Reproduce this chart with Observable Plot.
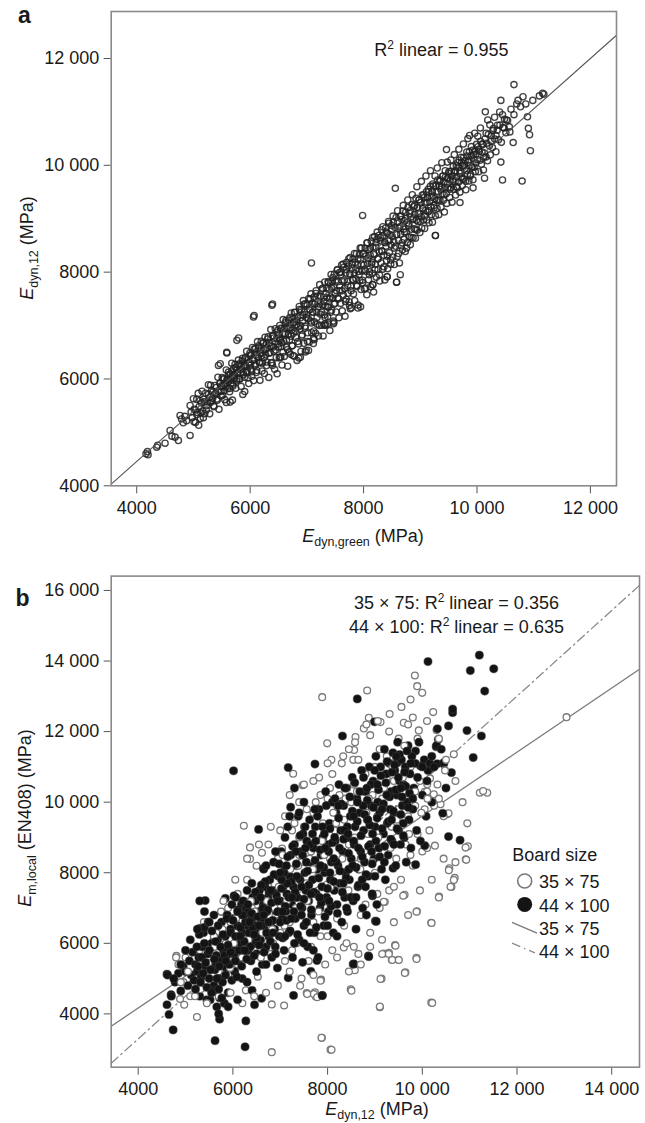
<!DOCTYPE html>
<html><head><meta charset="utf-8">
<script src="https://cdn.jsdelivr.net/npm/d3@7"></script>
<script src="https://cdn.jsdelivr.net/npm/@observablehq/plot@0.6"></script>
<style>
body{margin:0;background:#fff;}
#wrap{position:relative;width:645px;height:1123px;overflow:hidden;font-family:"Liberation Sans",Arial,Helvetica,sans-serif;}
#wrap svg{display:block;}
.panel{position:absolute;left:0;}
#overlay{position:absolute;left:0;top:0;pointer-events:none;}
</style></head><body><div id="wrap"></div>
<script>
// ---------- Panel a data: E_dyn,green (x) vs E_dyn,12 (y), MPa ----------
const aTicksX = [4000, 6000, 8000, 10000, 12000];
const aTicksY = [4000, 6000, 8000, 10000, 12000];
const aFitX = [3550, 12460];
const aFitY = [4030, 12435];
const aPoints = [
[4164,4600],[4190,4640],[4200,4580],[4353,4723],[4370,4760],[4500,4798],[4588,5036],[4620,4930],[4676,4911],[4735,4849],[4764,5317],[4790,5250],[4820,5180],[4850,5300],[4880,5220],[4941,4943],[4941,5503],[4960,5380],[4980,5280],[4999,5630],[5010,5200],[5040,5420],[5060,5330],[5084,5730],[5100,5480],[5120,5260],[5140,5550],[5160,5400],[5180,5620],[5200,5350],[5230,5500],[5264,5893],[5280,5650],[5300,5560],[5320,5780],[5340,5640],[5360,5480],[5380,5720],[5400,5840],[5420,5600],[5441,6254],[5450,5760],[5470,5920],[5490,5680],[5500,5850],[5520,6000],[5540,5780],[5560,5900],[5580,5560],[5589,6485],[5600,5980],[5620,6080],[5640,5820],[5647,5567],[5660,6000],[5680,6150],[5700,5900],[5720,6060],[5740,6220],[5766,6723],[5760,5960],[5780,6100],[5800,6280],[5820,6000],[5840,6180],[5860,6340],[5871,5711],[5880,6080],[5900,6250],[5920,6400],[5940,6120],[5960,6020],[5980,6300],[6000,6450],[6010,6180],[6030,6050],[6050,6350],[6058,7160],[6070,6560],[6090,6250],[6110,6120],[6130,6420],[6150,6620],[6170,6300],[6190,6480],[6210,6150],[6230,6680],[6250,6400],[6270,6550],[6290,6250],[6310,6750],[6330,6480],[6350,6620],[6370,6300],[6383,7379],[6393,6254],[6400,6800],[6420,6520],[6440,6700],[6460,6400],[6480,6880],[6500,6600],[6520,6760],[6529,6411],[6540,6950],[6560,6680],[6580,6500],[6600,6850],[6620,7050],[6640,6720],[6660,6550],[6680,6950],[6700,7150],[6720,6800],[6740,6620],[6760,7050],[6780,7250],[6800,6900],[6820,7100],[6840,6700],[6859,6391],[6870,7300],[6890,7000],[6910,6800],[6930,7200],[6950,7400],[6970,6950],[6990,7150],[7010,6700],[7029,6535],[7040,7300],[7060,7500],[7081,8171],[7080,7050],[7100,7250],[7120,6900],[7129,6736],[7140,7400],[7160,7600],[7180,7150],[7200,7350],[7220,7000],[7240,7550],[7260,7250],[7280,7700],[7306,7004],[7300,7450],[7320,7150],[7340,7600],[7360,7350],[7380,7800],[7400,7500],[7420,7250],[7440,7700],[7460,7900],[7470,7036],[7480,7400],[7500,7600],[7520,7850],[7540,8050],[7560,7500],[7580,7750],[7600,8000],[7620,7650],[7640,8150],[7660,7850],[7680,7450],[7700,8050],[7720,7750],[7740,8250],[7765,7317],[7760,7950],[7780,7650],[7800,8150],[7820,7850],[7840,8350],[7860,8050],[7880,7750],[7901,7328],[7900,8250],[7920,7950],[7940,8450],[7960,8150],[7983,9062],[7980,7850],[8000,8350],[8020,8050],[8040,7700],[8060,8550],[8080,8250],[8100,7950],[8120,8450],[8140,8150],[8163,7766],[8160,8650],[8180,8350],[8200,8050],[8220,8550],[8240,8750],[8260,8250],[8280,7950],[8300,8650],[8320,8400],[8340,8850],[8360,8100],[8380,8550],[8400,8750],[8416,7913],[8420,8300],[8440,8950],[8460,8600],[8480,8150],[8500,8800],[8520,9050],[8540,8450],[8560,9569],[8582,7812],[8580,8700],[8600,9150],[8620,8350],[8647,7953],[8640,8850],[8660,9050],[8680,8550],[8700,9250],[8720,8750],[8740,9000],[8760,8450],[8780,9350],[8800,8900],[8820,9150],[8840,8650],[8860,9450],[8880,9000],[8900,9250],[8920,8800],[8940,9600],[8960,9100],[8980,9350],[9000,8950],[9020,9700],[9040,9200],[9060,9450],[9080,9050],[9100,9800],[9120,9300],[9140,9550],[9160,9150],[9180,9900],[9200,9400],[9220,9650],[9240,9250],[9267,8687],[9260,9800],[9280,9500],[9300,9950],[9320,9350],[9340,9700],[9360,9550],[9380,10050],[9400,9800],[9420,9450],[9440,9900],[9462,10295],[9476,10060],[9480,9650],[9500,9850],[9520,9550],[9540,10100],[9560,9800],[9580,9700],[9600,10200],[9620,9900],[9640,9600],[9660,10050],[9680,10300],[9700,9303],[9700,9850],[9720,10150],[9740,9750],[9760,10400],[9780,10000],[9800,9700],[9820,10250],[9840,10500],[9870,10560],[9860,10100],[9880,9800],[9900,10350],[9917,9960],[9931,9578],[9940,10200],[9960,10600],[9980,10050],[10014,10546],[10030,10300],[10060,10700],[10090,10400],[10120,10150],[10133,9759],[10147,11002],[10160,10600],[10190,10850],[10226,10760],[10250,10450],[10280,10650],[10310,10900],[10335,10560],[10360,10750],[10400,11000],[10421,11216],[10421,10060],[10450,10948],[10450,9725],[10480,10700],[10520,10850],[10580,10626],[10600,11050],[10638,10426],[10652,11511],[10652,10948],[10700,11150],[10724,11216],[10768,11096],[10796,9705],[10811,11283],[10860,11150],[10891,10908],[10906,10693],[10927,10573],[10942,10272],[10984,11216],[11100,11300],[11157,11350],[11180,11330],
[6540,6406],[6684,6507],[6756,6440],[6886,6406],[6973,6507],[7117,6760],[7370,7030],[7477,7062],[7320,7030],[7752,7377],[7947,7350],[8163,7766],[8416,7913],[8582,7812],[9267,8687],[5905,5764],[5688,5604],[5473,6286],[5587,6500],[5797,6767],[6071,7189],[6395,7404]
];
const aPointsDense = [
[5013,5433],[5037,5187],[5058,5618],[5071,5371],[5093,5133],[5117,5597],[5131,5361],[5152,5772],[5176,5276],[5191,5571],[5213,5733],[5228,5418],[5249,5569],[5266,5716],[5287,5347],[5303,5883],[5322,5592],[5341,5751],[5359,5499],[5377,5877],[5396,5736],[5413,5623],[5432,6032],[5451,5431],[5468,5918],[5487,5767],[5492,5872],
[5506,6026],[5517,5697],[5529,5869],[5544,6004],[5553,5613],[5568,5858],[5579,6169],[5591,5991],[5604,5824],[5618,6128],[5627,5957],[5639,5759],[5651,6091],[5664,5924],[5676,6296],[5688,6058],[5697,5867],[5709,6189],[5722,6022],[5734,6274],[5746,5826],[5757,6167],[5769,5999],[5781,6131],[5793,6353],[5806,5996],[5818,6268],[5829,6109],[5841,5861],[5853,6243],[5866,6386],[5878,6118],[5889,6249],[5902,6032],[5914,6384],[5927,6237],[5938,6518],[5951,6151],[5963,6363],[5975,5915],[5987,6317],[5996,6486],
[6008,6268],[6019,6449],[6027,6137],[6041,6591],[6049,6359],[6062,5972],[6073,6463],[6084,6284],[6096,6576],[6107,6447],[6118,6158],[6129,6699],[6138,6398],[6151,6571],[6162,6312],[6174,5974],[6183,6543],[6196,6706],[6205,6435],[6217,6297],[6228,6668],[6239,6539],[6251,6101],[6262,6782],[6273,6453],[6284,6664],[6296,6316],[6307,6577],[6318,6788],[6329,6029],[6341,6671],[6352,6492],[6364,6924],[6375,6615],[6386,6306],[6397,6807],[6409,6599],[6418,6768],[6431,6181],[6442,6942],[6453,6543],[6465,6755],[6476,6096],[6487,6917],[6495,6655],
[6504,6824],[6513,6393],[6522,7002],[6531,6731],[6543,6603],[6552,6942],[6561,6261],[6573,6843],[6582,7112],[6591,6711],[6602,6422],[6611,6961],[6623,6843],[6632,7092],[6641,6591],[6653,6953],[6662,6240],[6674,6834],[6683,7103],[6692,6732],[6704,6954],[6713,6463],[6725,7235],[6734,6914],[6743,6623],[6755,7125],[6764,6854],[6776,6426],[6785,7065],[6794,7244],[6806,6776],[6815,7015],[6827,6347],[6836,7176],[6845,6975],[6857,6657],[6866,7356],[6875,6935],[6887,7147],[6896,6516],[6905,7295],[6917,6827],[6926,7086],[6938,7468],[6947,6667],[6956,7256],[6968,6988],[6977,7407],[6989,6539],[6998,7208],
[7007,7387],[7016,6866],[7025,7125],[7034,7504],[7043,6693],[7052,7292],[7064,7084],[7073,7593],[7085,6865],[7094,7424],[7103,7253],[7115,6665],[7124,7534],[7133,7073],[7145,7405],[7154,6854],[7163,7653],[7175,7255],[7184,7024],[7193,7553],[7205,6805],[7214,7404],[7226,7766],[7235,7215],[7244,7544],[7256,7006],[7265,7685],[7277,7387],[7286,6806],[7295,7525],[7307,7197],[7316,7816],[7325,7365],[7337,7007],[7346,7696],[7355,7525],[7367,7167],[7376,7826],[7385,7345],[7397,7677],[7406,6906],[7415,7535],[7427,7957],[7436,7286],[7445,7825],[7457,7517],[7466,7086],[7475,7725],[7487,7967],[7496,7416],
[7505,7825],[7514,7254],[7523,7653],[7535,8035],[7544,7514],[7553,7823],[7565,7145],[7574,7994],[7583,7653],[7595,7415],[7604,7954],[7613,8133],[7625,7275],[7634,7824],[7643,7573],[7655,8095],[7664,7694],[7673,7173],[7685,7985],[7694,7494],[7703,8183],[7715,7825],[7724,7604],[7733,8113],[7745,7445],[7754,7974],[7763,8273],[7775,7735],[7784,7334],[7793,8073],[7805,7865],[7814,8244],[7823,7593],[7835,7985],[7844,7464],[7853,8183],[7865,7875],[7874,8344],[7883,7733],[7895,8135],[7904,7384],[7913,8013],[7925,8325],[7934,7844],[7943,8233],[7955,7675],[7964,8454],[7973,8023],[7985,7805],[7994,8344],
[8006,8136],[8015,7685],[8027,8447],[8036,8016],[8045,8305],[8057,7577],[8066,8546],[8075,8165],[8087,7857],[8096,8426],[8105,8005],[8117,8317],[8126,7726],[8135,8585],[8147,8187],[8156,7976],[8165,8465],[8177,7627],[8186,8326],[8195,8665],[8207,8147],[8216,8466],[8225,7905],[8237,8617],[8246,8246],[8255,8045],[8267,8687],[8276,8386],[8285,7835],[8297,8587],[8306,8176],[8315,8795],[8327,8387],[8336,8056],[8345,8685],[8357,8317],[8366,8566],[8375,7855],[8387,8827],[8396,8486],[8405,8216],[8417,8727],[8426,8066],[8435,8585],[8447,8917],[8456,8366],[8465,8705],[8477,8227],[8486,8506],[8495,8875],
[8504,8674],[8513,8283],[8525,8935],[8534,8564],[8543,8143],[8555,8835],[8564,8484],[8573,9023],[8585,8705],[8594,8294],[8603,8943],[8615,8595],[8624,8824],[8633,8173],[8645,9045],[8654,8714],[8663,8493],[8675,8985],[8684,8414],[8693,9143],[8705,8805],[8714,8614],[8723,8963],[8735,8385],[8744,9124],[8753,8753],[8765,8925],[8774,8554],[8783,9213],[8795,8865],[8804,8664],[8813,9103],[8825,8515],[8834,9034],[8843,8803],[8855,9265],[8864,8984],[8873,8643],[8885,9225],[8894,8814],[8903,9083],[8915,8635],[8924,9384],[8933,8973],[8945,8785],[8954,9214],[8963,8943],[8975,9355],[8984,9094],[8993,8743],
[9005,9305],[9017,9037],[9026,8826],[9035,9445],[9047,9187],[9056,8976],[9065,9395],[9077,8817],[9086,9306],[9095,9155],[9107,9507],[9116,8976],[9125,9395],[9137,9127],[9146,9506],[9155,8925],[9167,9317],[9176,9606],[9185,9225],[9197,9077],[9206,9506],[9215,8935],[9227,9427],[9236,9616],[9245,9205],[9257,9377],[9266,9056],[9275,9615],[9287,9347],[9296,9196],[9305,9725],[9317,9507],[9326,9076],[9335,9615],[9347,9347],[9356,9726],[9365,9215],[9377,9597],[9386,9466],[9395,9795],[9407,9347],[9416,9676],[9425,9125],[9437,9587],[9446,9786],[9458,9468],[9467,9287],[9479,9759],[9488,9578],
[9506,9886],[9518,9398],[9527,9727],[9539,9579],[9548,9888],[9560,9310],[9569,9729],[9581,9981],[9590,9550],[9602,9862],[9614,9694],[9623,9443],[9635,9995],[9644,9784],[9656,9576],[9665,9965],[9677,9687],[9686,10096],[9698,9498],[9707,9897],[9719,9779],[9728,10058],[9740,9620],[9749,9989],[9761,10141],[9770,9740],[9782,9932],[9791,10091],[9803,9543],[9812,9902],[9824,10174],[9833,9833],[9845,10055],[9857,9707],[9866,10256],[9878,9998],[9887,9827],[9899,10179],[9908,9968],[9920,10280],[9929,9729],[9941,10121],[9950,9970],[9962,10262],[9971,9881],[9983,10213],[9992,10392],
[10006,10106],[10018,10348],[10030,9880],[10042,10262],[10054,10094],[10066,10446],[10078,10018],[10090,10250],[10102,10392],[10114,9914],[10130,10230],[10142,10492],[10158,10158],[10172,10412],[10186,10086],[10200,10580],[10218,10368],[10236,10196],[10254,10554],[10272,10332],[10290,10690],[10312,10492],[10334,10254],[10356,10656],[10380,10480],[10404,10754],[10430,10430],[10456,10706],[10484,10864],[10510,10610],[10540,10840],[10570,10720]
];

// ---------- Panel b data: E_dyn,12 (x) vs E_m,local (y), MPa ----------
const bTicksX = [4000, 6000, 8000, 10000, 12000, 14000];
const bTicksY = [4000, 6000, 8000, 10000, 12000, 14000, 16000];
const bFit35X = [3430, 14587];
const bFit35Y = [3650, 13765];
const bFit44X = [3430, 14587];
const bFit44Y = [2600, 16145];
const bOpen35x75 = [
[7886,12976],[8836,13166],[9843,13590],[9892,13288],[9998,13098],[9751,12911],[10230,12552],[8870,12391],[9117,12269],[9609,12249],[9926,12034],[10300,12043],[8765,12091],[8589,11845],[7992,11667],[8543,11200],[8560,11480],[10666,11355],[11215,10269],[11371,10269],[13046,12410],[10385,9941],[10526,9658],[10243,10224],[10104,10507],[7273,10806],[7473,10481],[6231,9330],[6361,8718],[6361,8393],[6613,8566],[7038,8688],[5762,6886],[5389,6601],[4807,5644],[5059,5644],[4955,4900],[4885,4422],[4972,4259],[5241,3913],[6274,4667],[6526,5053],[6821,4269],[7082,4239],[7420,4797],[7559,4593],[7733,4613],[7750,4490],[7863,4970],[8488,4697],[8575,5237],[9139,4998],[9104,4187],[9182,5713],[9295,5734],[9425,5948],[9356,5532],[9495,5532],[9877,5592],[9642,5175],[10189,4320],[7880,3322],[8063,2986],[6821,2915],[9208,7171],[9626,7375],[9885,6906],[10189,6580],[10354,7324],[10615,7599],[10684,7854],[10571,8127],[10918,8382],[10962,8748],[10267,8768],[11285,10318],[10554,9686],[10163,10674],[10052,10297],[10913,8713],[10927,8365],[10560,8074],[10666,7791],[10596,7601],[10349,7299],[10195,6574],[9878,6894],[9597,7347],[9187,7177],[9434,5932],[9153,5697],[9293,5697],[9365,5528],[9504,5528],[9878,5556],[9631,5160],[9117,4990],[8505,4659],[9103,4207],[10209,4311],[7871,3321],[8083,2982],[7709,4566],[7780,4470],[7569,4566],[7850,4942],[8342,5884],[8554,5904],
[4800,5600],[5000,5600],[5100,4500],[5150,4850],[5250,5250],[5300,5800],[5400,5900],[5450,5050],[5550,5300],[5600,5700],[5650,6300],[5700,5200],[5750,6900],[5800,5500],[5850,6000],[5900,5100],[5950,6600],[6000,5600],[6050,6300],[6100,5400],[6150,6800],[6200,5900],[6250,7200],[6300,5600],[6350,6400],[6400,7000],[6450,5800],[6500,6700],[6550,7400],[6600,6100],[6650,7700],[6700,6500],[6750,7600],[6800,5700],[6850,7300],[6900,6800],[6950,8400],[7000,6300],[7050,7800],[7100,5500],[7150,8000],[7200,6600],[7250,9200],[7300,7400],[7350,6000],[7400,8500],[7450,6800],[7500,9300],[7550,7700],[7600,5500],[7650,8600],[7700,6600],[7750,10000],[7800,7900],[7850,6200],[7900,9400],[7950,7000],[8000,10100],[8050,8400],[8100,5800],[8150,9200],[8200,6700],[8250,10200],[8300,7600],[8350,9500],[8400,6000],[8450,8800],[8500,10000],[8550,7300],[8600,9700],[8650,5700],[8700,8400],[8750,10300],[8800,7100],[8850,9100],[8900,6300],[8950,10200],[9000,8000],[9050,9600],[9100,7000],[9150,10100],[9200,8600],[9250,10700],[9300,7500],[9350,9300],[9400,10600],[9450,8400],[9500,9800],[9550,7800],[9600,10300],[9650,8800],[9700,9600],[9750,11000],[9800,8200],[9850,9900],[9900,9100],[9950,10600],[10000,8600],[10050,9800],[10100,10300],[10150,9200],[10250,9900],[10350,10100],[10450,9600],[7200,10200],[7500,10500],[8100,10800],[8300,11100],[8450,11500],[8650,11200],[8900,11900],[9100,11500],[9300,12000],[9500,11800],[9700,12200],[9900,11800],[8050,10400],[7700,9700],[7000,9200],[6750,8800],[6500,8200],[6300,7800],[6100,7400],[5900,7000],[6650,6200],[6850,6000],[7250,5800],[7650,5900],[8000,6200],[8350,6500],[8700,6800],[9050,7400],[9400,7600],[9750,8500],[10100,8700],[7400,9000],[7850,10200],[8200,9900],[8550,10500],[8800,10800],[9000,11000],[9250,11300],[9450,11200]
];
const bOpenCore35x75 = [
[5320,4700],[5480,5450],[5620,5900],[5780,6400],[5940,5300],[6070,6700],[6190,5600],[6330,6100],[6460,6900],[6590,5600],[6720,7200],[6830,6400],[6970,7600],[7090,6500],[7210,8100],[7330,7000],[7450,8300],[7570,7200],[7690,8100],[7810,6900],[7930,8500],[8060,7600],[8180,9400],[8310,8400],[8440,7500],[8570,9000],[8690,8100],[8820,9700],[8940,8300],[9070,9000],[9190,10400],[9330,8700],[9460,9500],[9590,10700],[9720,9100],[9850,10300],[9980,9700],[10110,10100],[10320,10500],[10480,10900],[6020,6000],[6380,7200],[6620,6300],[6880,7000],[7140,7200],[7380,8200],[7620,8400],[7880,8900],[8120,9700],[8380,10100],[8620,10300],[8870,10100],[9120,10600],[9370,11000],[9620,11600],[7050,8500],[7300,9400],[7560,9800],[7820,10700],[8080,11200],[8330,11300],[8580,11700],[8820,12200],[9060,12300],[9310,12500],[9560,12700],[9800,12400],[10100,12300],[10350,11800],[10500,11200],[10700,10600],[10850,10000],[10950,9400],[10700,8300],[10450,8400],[10200,7800],[9950,7500],[9700,6800],[9400,6600],[9150,6100],[8900,5900],[8700,5400],[8450,5200],[8200,5600],[7950,5400],[7700,5100],[7450,5000],[7200,5200],[6950,4800],[6700,4600],[6450,4500],[6200,4300],[5950,4600],[5700,4500],[5450,4300],[5200,4500],[5050,5200],[4900,4900],[4850,5400],[5600,6200],[5800,7200],[6050,7800],[6300,8400],[6550,8800],[6800,9300],[7100,9600],[7400,10000],[7700,10600],[8000,11100]
];
const bFilled44x100 = [
[6014,10888],[10120,13984],[11205,14167],[11014,13729],[11509,13780],[11318,13149],[8627,12925],[8314,11876],[10944,12029],[11248,11876],[11075,11265],[10615,10837],[10432,9686],[10554,9024],[10797,8922],[10554,12161],[10641,12537],[10641,12640],[10319,12079],[10337,11774],[10293,11570],[10450,11081],[7168,10980],[7733,11081],[7220,9857],[6543,9228],[6648,8127],[6023,7344],[5415,7212],[5840,7273],[5302,6427],[5606,6175],[4608,5124],[4695,4544],[4608,4259],[4651,3983],[4738,3545],[5623,3240],[5719,3851],[6257,3067],[6274,3800],[6457,4259],[6605,4442],[6405,4667],[6196,5002],[7281,4524],[7168,5022],[7889,4524],[7646,5205],[7472,5460],[7776,5511],[8861,5642],[8540,5410],[9009,6631],[8948,7344],[9382,8127],[9859,8230],[10052,8768],[8991,12278],[10315,11089],[10454,11118],[10209,10976],[9857,11449],[9962,11025],[9470,11118],[7886,4518],[8870,5621],[8554,5415],[9027,6620],
[4620,5100],[4700,4500],[4780,4900],[4850,5150],[4900,4650],[4950,5350],[5000,5200],[5050,4800],[5080,5500],[5120,5100],[5150,5750],[5180,4950],[5210,5400],[5250,5200],[5280,5600],[5300,4500],[5330,5050],[5350,5900],[5380,6300],[5400,6450],[5420,5350],[5450,4400],[5470,5700],[5500,5000],[5520,4400],[5550,6000],[5580,5450],[5600,4800],[5620,5250],[5650,5650],[5660,4200],[5680,6100],[5700,5000],[5720,4450],[5740,5500],[5760,6600],[5780,4900],[5800,5800],[5820,4300],[5840,6200],[5860,5300],[5880,6800],[5900,4600],[5920,5700],[5950,6400],[5980,7100],[6000,5900],[6020,6700],[6040,5200],[6060,7300],[6080,6100],[6100,6500],[6120,5500],[6140,6900],[6160,6000],[6180,7100],[6200,6300],[6220,5700],[6240,6800],[6260,6050],[6280,7000],[6300,6500],[6320,5800],[6340,6900],[6360,6200],[6380,5500],[6400,6700],[6420,7300],[6440,6000],[6460,6500],[6480,7200],[6500,5700],[6520,6300],[6540,6900],[6560,7500],[6580,6100],[6600,6700],[6620,5400],[6640,7100],[6650,8100],[6660,6400],[6680,7600],[6700,5900],[6720,6900],[6740,7300],[6760,6200],[6780,7800],[6800,6600],[6820,5600],[6840,7100],[6860,8300],[6880,6400],[6900,7500],[6920,6900],[6940,5300],[6960,7900],[6980,6200],[7000,7200],[7020,8600],[7040,6700],[7060,7600],[7080,5800],[7100,8100],[7120,6900],[7140,7400],[7160,9300],[7180,6300],[7200,7900],[7220,8500],[7240,7100],[7260,5600],[7280,7600],[7300,8800],[7320,6700],[7340,8200],[7360,7300],[7380,9600],[7400,6100],[7420,7800],[7440,8600],[7460,7000],[7480,9100],[7500,6500],[7520,8000],[7540,7500],[7560,8900],[7580,5900],[7600,7200],[7620,9500],[7640,8300],[7660,6800],[7680,7800],[7700,8700],[7720,6300],[7740,9300],[7760,7400],[7780,8100],[7800,5600],[7820,9800],[7840,7000],[7860,8500],[7880,7600],[7900,9000],[7920,6500],[7940,8000],[7960,10300],[7980,7300],[8000,8800],[8020,6900],[8040,9400],[8060,7800],[8080,8300],[8100,10000],[8120,6300],[8140,7500],[8160,8900],[8180,9700],[8200,7100],[8220,8200],[8240,10500],[8260,7700],[8280,9200],[8300,6600],[8320,8600],[8340,9900],[8360,7300],[8380,8000],[8400,10400],[8420,6900],[8440,9000],[8460,7800],[8480,9600],[8500,8400],[8520,10700],[8540,7200],[8560,8800],[8580,9300],[8600,6400],[8620,10100],[8640,7600],[8660,8100],[8680,9700],[8700,8600],[8720,10900],[8740,7000],[8760,9200],[8780,8300],[8800,10300],[8820,6800],[8840,9500],[8860,7900],[8880,11000],[8900,8800],[8920,9900],[8940,7400],[8960,10600],[8980,8400],[9000,9300],[9020,11300],[9040,7100],[9060,10000],[9080,8700],[9100,9700],[9120,11000],[9140,8100],[9160,10400],[9180,9100],[9200,11500],[9220,7800],[9240,10800],[9260,9400],[9280,8500],[9300,11100],[9320,9800],[9340,10300],[9360,8900],[9380,11400],[9400,9600],[9420,10900],[9440,8200],[9460,10200],[9480,11700],[9500,9200],[9520,10600],[9540,8800],[9560,11200],[9580,9900],[9600,10500],[9620,9000],[9640,11000],[9660,8300],[9680,10000],[9700,11600],[9720,9500],[9740,10800],[9760,8700],[9780,11300],[9800,9800],[9820,10400],[9850,11100],[9880,9200],[9900,10700],[9930,11700],[9960,8900],[10000,10200],[10040,11200],[10080,9600],[10120,10900],[10160,11100],[10200,10000],[10250,11000],[10300,11600]
];
const bFilledCore44x100 = [
[5210,4700],[5240,5900],[5265,5350],[5290,6250],[5315,4900],[5345,5600],[5372,5150],[5398,6000],[5425,5450],[5452,4750],[5478,6600],[5503,5800],[5530,5250],[5557,6350],[5583,4650],[5610,5550],[5636,6050],[5662,5000],[5688,6500],[5714,5350],[5741,5900],[5767,4450],[5793,6250],[5819,5650],[5846,5100],[5872,6700],[5898,5950],[5925,5400],[5951,6300],[5977,4950],[6003,6650],[6029,5700],[6055,6200],[6082,5050],[6108,6950],[6134,5800],[6160,6450],[6187,5350],[6213,7200],[6239,6050],[6265,6600],[6292,5550],[6318,7100],[6344,6300],[6370,5900],[6397,6850],[6423,6450],[6449,5650],[6475,7450],[6502,6150],[6528,6750],[6554,5950],[6580,7300],[6606,6500],[6633,7000],[6659,5750],[6685,7750],[6711,6300],[6738,6950],[6764,7450],[6790,6050],[6816,7150],[6843,6650],[6869,7950],[6895,5900],[6921,7350],[6948,6900],[6974,8250],[7000,6600],[7026,7550],[7052,6150],[7079,8000],[7105,7050],[7131,6650],[7157,8450],[7184,7300],[7210,6350],[7236,7750],[7262,8750],[7289,6900],[7315,7450],[7341,8250],[7367,6250],[7394,7850],[7420,9050],[7446,6800],[7472,8500],[7499,7250],[7525,9300],[7551,6600],[7577,8050],[7604,7650],[7630,8800],[7656,6950],[7682,9100],[7709,7450],[7735,8350],[7761,6450],[7787,9600],[7814,7850],[7840,8650],[7866,7150],[7892,9300],[7919,8150],[7945,6750],[7971,9900],[7997,7550],[8024,8600],[8050,9250],[8076,7050],[8102,8850],[8129,7750],[8155,10100],[8181,8300],[8207,6850],[8234,9550],[8260,8050],[8286,9950],[8312,7450],[8339,8950],[8365,10400],[8391,7850],[8417,9300],[8444,8550],[8470,10150],[8496,7300],[8522,9750],[8549,8900],[8575,10550],[8601,8150],[8627,9450],[8654,7650],[8680,10300],[8706,9050],[8732,8450],[8759,10700],[8785,9650],[8811,7950],[8837,10050],[8864,8750],[8890,9350],[8916,10500],[8942,8250],[8969,9850],[8995,10900],[9021,8900],[9047,9550],[9074,10350],[9100,8450],[9126,10750],[9152,9250],[9179,9950],[9205,8750],[9231,10550],[9257,11150],[9284,9450],[9310,10150],[9336,8950],[9362,10850],[9389,9750],[9415,11050],[9441,10350],[9467,9250],[9494,10700],[9520,11350],[9546,9650],[9572,10150],[9599,9050],[9625,10850],[9651,10450],[9677,11450],[9704,9850],[9730,10250],[9756,11100],
[5600,6800],[5700,4700],[5850,5500],[5950,5750],[6050,5500],[6150,6200],[6250,5800],[6350,6600],[6450,6250],[6550,6500],[6650,6800],[6750,6600],[6850,6300],[6950,7200],[7050,6900],[7150,7700],[7250,7300],[7350,7900],[7450,7600],[7550,8300],[7650,7400],[7750,8900],[7850,8200],[7950,8700],[8050,8000],[8150,9000],[8250,8700],[8350,9200],[8450,8100],[8550,9600],[8650,8700],[8750,9900],[8850,9500],[8950,9100],[9050,10500],[9150,9800],[9250,10200],[9350,9500],[9450,11300],[9550,10400],[7030,7800],[7130,8200],[7230,6700],[7330,8600],[7430,7050],[7530,8700],[7630,6300],[7730,9800],[7830,7300],[7930,9100],[8030,7200],[8130,8400],[8230,9900],[8330,7700],[8430,9100],[8530,8200],[8630,10000],[8730,7800],[8830,10400],[8930,8600],[6600,7650],[6700,8200],[6800,7500],[6900,8600],[7000,8000],[7100,9000],[7200,9600],[7300,10400],[7400,9700],[7500,10000],[6300,7500],[6400,7700],[6200,6800],[6100,6900],[5500,6600],[5400,6900],[5300,7200],[5250,6400],[5100,6100],[5000,5800],[4900,5400],[4750,5000],[5550,4600],[5700,4000],[5900,4200],[6100,4400],[6300,4900],[6500,5200],[6700,5400],[6900,5700],[7100,6200],[7300,6000],[7500,6000],[7700,5800],[8000,6500],[8200,6200],[8400,7000],[8600,7300],[8800,7600],[9000,7900],[9200,8300],[9400,8800],[9600,9400],[9800,10100],[10000,11000],[10100,10600],[10200,11300],[10400,11500],[10500,10400]
];

const fmt = d => d >= 10000 ? `${Math.floor(d / 1000)} ${String(d % 1000).padStart(3, "0")}` : String(d);
const toRows = (xs, ys) => xs.map((x, i) => ({x, y: ys[i]}));
const px = d => d[0], py = d => d[1];
const style = {fontFamily: "'Liberation Sans', Arial, Helvetica, sans-serif", fontSize: "18px", color: "#1a1a1a", background: "white"};

const plotA = Plot.plot({
  width: 645, height: 560,
  marginTop: 11, marginBottom: 74.7, marginLeft: 110.7, marginRight: 29,
  style,
  x: {domain: [3550, 12460]},
  y: {domain: [4000, 12880]},
  marks: [
    Plot.axisX({ticks: aTicksX, tickFormat: fmt, tickSize: 8, tickPadding: 7, label: null, stroke: "#555"}),
    Plot.axisY({ticks: aTicksY, tickFormat: fmt, tickSize: 7, tickPadding: 5, label: null, stroke: "#555"}),
    Plot.dot(aPoints.concat(aPointsDense), {x: px, y: py, r: 3.1, stroke: "#222", strokeOpacity: 0.85, strokeWidth: 1.35, fill: "none"}),
    Plot.line(toRows(aFitX, aFitY), {x: "x", y: "y", stroke: "#555", strokeWidth: 1.1}),
    Plot.frame({stroke: "#8a8a8a", strokeWidth: 1.6})
  ]
});

const plotB = Plot.plot({
  width: 645, height: 563,
  marginTop: 15.6, marginBottom: 56.3, marginLeft: 110.7, marginRight: 6,
  style,
  x: {domain: [3430, 14587]},
  y: {domain: [2489, 16407]},
  marks: [
    Plot.axisX({ticks: bTicksX, tickFormat: fmt, tickSize: 8, tickPadding: 7, label: null, stroke: "#555"}),
    Plot.axisY({ticks: bTicksY, tickFormat: fmt, tickSize: 7, tickPadding: 5, label: null, stroke: "#555"}),
    Plot.line(toRows(bFit35X, bFit35Y), {x: "x", y: "y", stroke: "#7a7a7a", strokeWidth: 1.3}),
    Plot.line(toRows(bFit44X, bFit44Y), {x: "x", y: "y", stroke: "#8a8a8a", strokeWidth: 1.3, strokeDasharray: "9,4,1.5,4"}),
    Plot.dot(bOpen35x75, {x: px, y: py, r: 3.4, stroke: "#7a7a7a", strokeWidth: 1.3, fill: "white"}),
    Plot.dot(bFilled44x100, {x: px, y: py, r: 4.1, fill: "#141414", stroke: "#444", strokeWidth: 0.5}),
    Plot.dot(bOpenCore35x75, {x: px, y: py, r: 3.4, stroke: "#7a7a7a", strokeWidth: 1.3, fill: "white"}),
    Plot.dot(bFilledCore44x100, {x: px, y: py, r: 4.1, fill: "#141414", stroke: "#444", strokeWidth: 0.5}),
    Plot.frame({stroke: "#8a8a8a", strokeWidth: 1.6})
  ]
});

const wrap = document.getElementById("wrap");
plotA.classList.add("panel"); plotA.style.top = "0px";
plotB.classList.add("panel"); plotB.style.top = "560px";
wrap.appendChild(plotA); wrap.appendChild(plotB);

const ns = "http://www.w3.org/2000/svg";
const ov = document.createElementNS(ns, "svg");
ov.setAttribute("id", "overlay"); ov.setAttribute("width", 645); ov.setAttribute("height", 1123);
ov.setAttribute("font-family", "'Liberation Sans', Arial, Helvetica, sans-serif");
ov.setAttribute("fill", "#1a1a1a");
ov.innerHTML = `
<text x="18" y="22.5" font-size="23" font-weight="bold">a</text>
<text x="15.5" y="606" font-size="23" font-weight="bold">b</text>
<text x="441.5" y="55.7" font-size="18" text-anchor="middle">R<tspan font-size="12" dy="-7">2</tspan><tspan dy="7"> linear = 0.955</tspan></text>
<text x="456.5" y="609" font-size="18" text-anchor="middle">35 × 75: R<tspan font-size="12" dy="-7">2</tspan><tspan dy="7"> linear = 0.356</tspan></text>
<text x="456.5" y="633" font-size="18" text-anchor="middle">44 × 100: R<tspan font-size="12" dy="-7">2</tspan><tspan dy="7"> linear = 0.635</tspan></text>
<text x="363" y="541.5" font-size="18" text-anchor="middle"><tspan font-style="italic">E</tspan><tspan font-size="12.5" dy="4.5">dyn,green</tspan><tspan dy="-4.5"> (MPa)</tspan></text>
<text transform="translate(33,248) rotate(-90)" font-size="18" text-anchor="middle"><tspan font-style="italic">E</tspan><tspan font-size="12.5" dy="4.5">dyn,12</tspan><tspan dy="-4.5"> (MPa)</tspan></text>
<text x="377" y="1115" font-size="18" text-anchor="middle"><tspan font-style="italic">E</tspan><tspan font-size="12.5" dy="4">dyn,12</tspan><tspan dy="-4"> (MPa)</tspan></text>
<text transform="translate(31,818) rotate(-90)" font-size="18" text-anchor="middle"><tspan font-style="italic">E</tspan><tspan font-size="12.5" dy="4.5">m,local</tspan><tspan dy="-4.5"> (EN408) (MPa)</tspan></text>
<text x="512.3" y="860.5" font-size="18">Board size</text>
<circle cx="524.7" cy="881" r="7" fill="white" stroke="#7a7a7a" stroke-width="1.6"/>
<circle cx="524.7" cy="904.4" r="7.5" fill="#141414"/>
<line x1="512" y1="922.4" x2="537" y2="933.2" stroke="#7a7a7a" stroke-width="1.3"/>
<line x1="512" y1="943.2" x2="535" y2="952.9" stroke="#8a8a8a" stroke-width="1.3" stroke-dasharray="9,4,1.5,4"/>
<text x="539" y="888" font-size="18">35 × 75</text>
<text x="539" y="911.5" font-size="18">44 × 100</text>
<text x="539" y="935" font-size="18">35 × 75</text>
<text x="539" y="957.5" font-size="18">44 × 100</text>
`;
wrap.appendChild(ov);
</script></body></html>
